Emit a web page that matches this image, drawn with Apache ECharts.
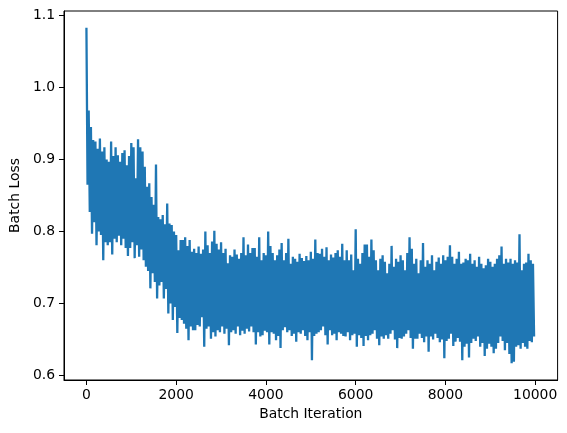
<!DOCTYPE html>
<html>
<head>
<meta charset="utf-8">
<script src="https://cdn.jsdelivr.net/npm/echarts@6/dist/echarts.min.js"></script>
<style>html,body{margin:0;padding:0;background:#fff}#c{width:567px;height:433px}</style>
</head>
<body>
<div id="c"></div>
<script>
// Iteration spacing of read samples: peaks at i*50, troughs at i*50+25
const STEP = 50;
const peaks = [
1.083,0.968,0.945,0.927,0.925,0.915,0.929,0.911,0.917,0.900,
0.897,0.925,0.905,0.917,0.906,0.897,0.909,0.913,0.892,0.905,
0.923,0.917,0.874,0.928,0.917,0.911,0.890,0.862,0.867,0.848,
0.837,0.893,0.820,0.817,0.823,0.810,0.839,0.811,0.809,0.800,
0.795,0.774,0.788,0.788,0.792,0.780,0.788,0.772,0.776,0.770,
0.779,0.769,0.775,0.800,0.781,0.770,0.786,0.801,0.783,0.775,
0.785,0.770,0.776,0.756,0.767,0.765,0.775,0.768,0.762,0.770,
0.792,0.767,0.782,0.770,0.777,0.777,0.765,0.792,0.760,0.770,
0.767,0.800,0.780,0.770,0.760,0.767,0.775,0.784,0.760,0.770,
0.790,0.755,0.765,0.762,0.758,0.769,0.763,0.759,0.766,0.760,
0.772,0.762,0.789,0.770,0.769,0.776,0.765,0.778,0.760,0.768,
0.764,0.770,0.774,0.765,0.783,0.760,0.774,0.760,0.768,0.746,
0.803,0.762,0.755,0.770,0.782,0.782,0.765,0.789,0.774,0.760,
0.746,0.762,0.767,0.758,0.742,0.755,0.780,0.751,0.762,0.758,
0.767,0.760,0.746,0.770,0.792,0.776,0.755,0.762,0.742,0.760,
0.784,0.751,0.760,0.755,0.767,0.746,0.758,0.764,0.755,0.767,
0.760,0.765,0.781,0.765,0.755,0.762,0.772,0.755,0.757,0.762,
0.760,0.769,0.755,0.760,0.751,0.765,0.755,0.749,0.753,0.762,
0.758,0.751,0.755,0.762,0.767,0.779,0.755,0.762,0.757,0.762,
0.755,0.760,0.757,0.796,0.746,0.755,0.757,0.769,0.760,0.755
];
const troughs = [
0.865,0.827,0.797,0.813,0.781,0.800,0.795,0.760,0.785,0.781,
0.785,0.768,0.790,0.785,0.794,0.781,0.790,0.777,0.766,0.777,
0.785,0.763,0.781,0.765,0.775,0.760,0.751,0.745,0.721,0.742,
0.730,0.707,0.725,0.730,0.707,0.720,0.686,0.700,0.677,0.695,
0.659,0.680,0.677,0.672,0.665,0.649,0.668,0.663,0.663,0.670,
0.668,0.681,0.640,0.665,0.668,0.651,0.660,0.654,0.663,0.660,
0.668,0.658,0.665,0.642,0.660,0.663,0.658,0.668,0.656,0.662,
0.658,0.665,0.661,0.668,0.660,0.643,0.660,0.654,0.656,0.662,
0.660,0.643,0.660,0.658,0.649,0.655,0.638,0.663,0.667,0.660,
0.663,0.655,0.658,0.647,0.660,0.658,0.663,0.655,0.649,0.660,
0.621,0.655,0.658,0.660,0.663,0.668,0.656,0.643,0.663,0.656,
0.658,0.649,0.660,0.658,0.655,0.654,0.660,0.649,0.656,0.658,
0.640,0.656,0.652,0.641,0.655,0.649,0.656,0.658,0.663,0.651,
0.642,0.654,0.651,0.656,0.651,0.658,0.663,0.650,0.638,0.652,
0.651,0.654,0.658,0.663,0.652,0.637,0.651,0.651,0.658,0.652,
0.646,0.654,0.633,0.654,0.650,0.658,0.652,0.646,0.650,0.624,
0.648,0.651,0.658,0.641,0.647,0.652,0.647,0.621,0.640,0.644,
0.625,0.645,0.651,0.648,0.654,0.640,0.645,0.627,0.637,0.644,
0.640,0.631,0.637,0.645,0.654,0.648,0.635,0.645,0.630,0.617,
0.619,0.640,0.642,0.637,0.645,0.640,0.637,0.648,0.646,0.654
];
const xTicks = [0, 2000, 4000, 6000, 8000, 10000];
const yTicks = [0.6, 0.7, 0.8, 0.9, 1.0, 1.1];
const xTitle = 'Batch Iteration';
const yTitle = 'Batch Loss';

const data = [];
for (let i = 0; i < peaks.length; i++) {
  data.push([i * STEP, peaks[i]]);
  data.push([i * STEP + STEP / 2, troughs[i]]);
}

const font = 'DejaVu Sans';
const chart = echarts.init(document.getElementById('c'), null, {renderer: 'canvas'});
chart.setOption({
  animation: false,
  backgroundColor: '#ffffff',
  grid: {left: 61.8, right: 9.4, top: 11, bottom: 53, show: true, borderColor: '#000', borderWidth: 1, backgroundColor: 'transparent'},
  xAxis: {
    type: 'value', min: -500, max: 10499,
    splitLine: {show: false},
    axisLine: {show: true, onZero: false, lineStyle: {color: '#000', width: 1}},
    axisTick: {show: true, length: 5, lineStyle: {color: '#000'}, customValues: xTicks},
    axisLabel: {color: '#000', fontFamily: font, fontSize: 13.9, margin: 8, customValues: xTicks,
      formatter: v => String(v)},
    name: xTitle, nameLocation: 'middle', nameGap: 27,
    nameTextStyle: {color: '#000', fontFamily: font, fontSize: 13.9}
  },
  yAxis: {
    type: 'value', min: 0.5937, max: 1.1063,
    splitLine: {show: false},
    axisLine: {show: true, onZero: false, lineStyle: {color: '#000', width: 1}},
    axisTick: {show: true, length: 5, lineStyle: {color: '#000'}, customValues: yTicks},
    axisLabel: {color: '#000', fontFamily: font, fontSize: 13.9, margin: 9, customValues: yTicks,
      formatter: v => v.toFixed(1)},
    name: yTitle, nameLocation: 'middle', nameGap: 41,
    nameTextStyle: {color: '#000', fontFamily: font, fontSize: 13.9}
  },
  series: [{
    type: 'line', data: data, showSymbol: false, symbol: 'none',
    lineStyle: {color: '#1f77b4', width: 2.3, join: 'miter'},
    itemStyle: {color: '#1f77b4'}
  }]
});
</script>
</body>
</html>
